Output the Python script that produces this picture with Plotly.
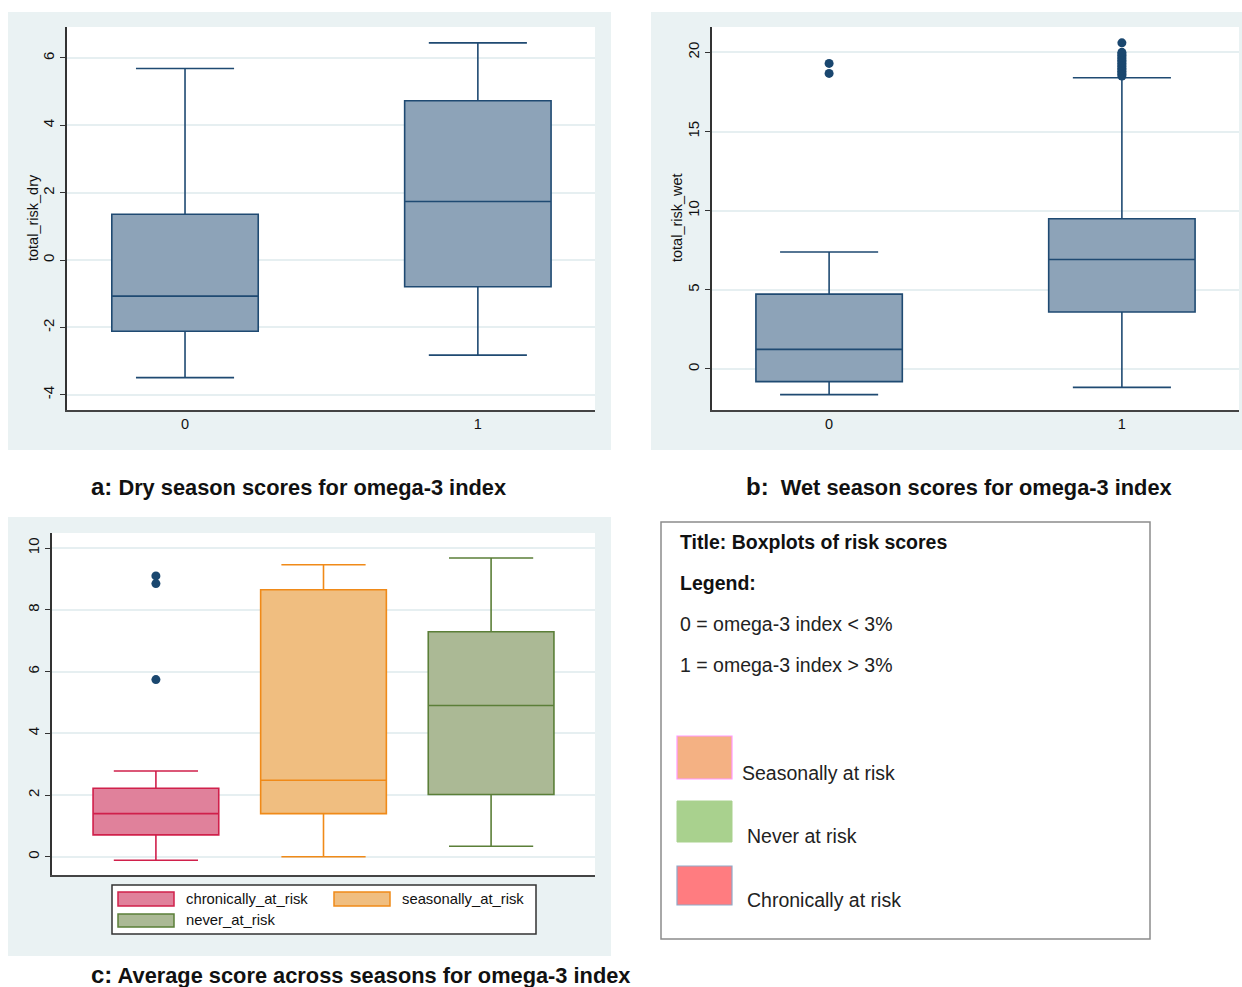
import plotly.graph_objects as go

W, H = 1242, 987


def px(x):
    return x / W


def py(y):
    return 1 - y / H


# ---------------- data ----------------
omega_groups = ["0", "1"]

dry_q1 = [-2.11, -0.79]
dry_median = [-1.07, 1.74]
dry_q3 = [1.36, 4.73]
dry_lower = [-3.49, -2.82]
dry_upper = [5.69, 6.45]

wet_q1 = [-0.80, 3.60]
wet_median = [1.24, 6.92]
wet_q3 = [4.73, 9.49]
wet_lower = [-1.62, -1.16]
wet_upper = [7.39, 18.39]
wet_outliers_0 = [18.67, 19.30]
wet_outliers_1 = [18.50, 18.60, 18.70, 18.80, 18.90, 19.00, 19.10, 19.20,
                  19.30, 19.40, 19.50, 19.60, 19.70, 19.80, 19.90, 20.00, 20.60]

risk_groups = ["chronically_at_risk", "seasonally_at_risk", "never_at_risk"]
avg_q1 = [0.71, 1.40, 2.02]
avg_median = [1.40, 2.48, 4.90]
avg_q3 = [2.22, 8.65, 7.29]
avg_lower = [-0.11, 0.00, 0.34]
avg_upper = [2.78, 9.46, 9.68]
avg_outliers_chronic = [9.10, 8.85, 5.74]

dry_ticks = [-4, -2, 0, 2, 4, 6]
wet_ticks = [0, 5, 10, 15, 20]
avg_ticks = [0, 2, 4, 6, 8, 10]

# ---------------- styles ----------------
NAVY = "#1F4A72"
NAVY_FILL = "#8DA3B8"
risk_fill = ["#E0819B", "#F0BE80", "#ABB995"]
risk_line = ["#D0204B", "#F08A18", "#5B7F38"]
GRAPH_BG = "#EAF2F3"
GRID = "#E6EFF1"
AXIS = "#333333"
FONT = "Liberation Sans, Arial, sans-serif"

fig = go.Figure()

# Panel a
fig.add_trace(go.Box(
    x=omega_groups, q1=dry_q1, median=dry_median, q3=dry_q3,
    lowerfence=dry_lower, upperfence=dry_upper,
    width=0.5, whiskerwidth=0.67, fillcolor=NAVY_FILL,
    line=dict(color=NAVY, width=1.6), boxpoints=False,
    xaxis="x", yaxis="y", showlegend=False))

# Panel b
fig.add_trace(go.Box(
    x=omega_groups, q1=wet_q1, median=wet_median, q3=wet_q3,
    lowerfence=wet_lower, upperfence=wet_upper,
    width=0.5, whiskerwidth=0.67, fillcolor=NAVY_FILL,
    line=dict(color=NAVY, width=1.6), boxpoints=False,
    xaxis="x2", yaxis="y2", showlegend=False))
fig.add_trace(go.Scatter(
    x=[omega_groups[0]] * len(wet_outliers_0), y=wet_outliers_0, mode="markers",
    marker=dict(color="#1A476F", size=9), xaxis="x2", yaxis="y2", showlegend=False))
fig.add_trace(go.Scatter(
    x=[omega_groups[1]] * len(wet_outliers_1), y=wet_outliers_1, mode="markers",
    marker=dict(color="#1A476F", size=9), xaxis="x2", yaxis="y2", showlegend=False))

# Panel c
for i, g in enumerate(risk_groups):
    fig.add_trace(go.Box(
        x=[g], q1=[avg_q1[i]], median=[avg_median[i]], q3=[avg_q3[i]],
        lowerfence=[avg_lower[i]], upperfence=[avg_upper[i]],
        width=0.75, whiskerwidth=0.67, fillcolor=risk_fill[i],
        line=dict(color=risk_line[i], width=1.6), boxpoints=False,
        xaxis="x3", yaxis="y3", showlegend=False))
fig.add_trace(go.Scatter(
    x=[risk_groups[0]] * len(avg_outliers_chronic), y=avg_outliers_chronic,
    mode="markers", marker=dict(color="#1A476F", size=9),
    xaxis="x3", yaxis="y3", showlegend=False))

# ---------------- layout ----------------
common_x = dict(type="category", showline=True, linecolor="#444444", linewidth=2,
                showgrid=False, zeroline=False, ticks="",
                tickfont=dict(family=FONT, size=14.5, color="#111111"))
common_y = dict(showline=True, linecolor=AXIS, linewidth=1.5, showgrid=True,
                gridcolor=GRID, gridwidth=1.5, zeroline=False, ticks="outside",
                ticklen=5, tickcolor=AXIS, tickwidth=1, tickangle=-90,
                ticklabelstandoff=0,
                tickfont=dict(family=FONT, size=15, color="#111111"))

fig.update_layout(
    width=W, height=H, margin=dict(l=0, r=0, t=0, b=0),
    paper_bgcolor="white", plot_bgcolor="rgba(0,0,0,0)",
    boxmode="overlay", showlegend=False,
    font=dict(family=FONT),
    xaxis=dict(common_x, domain=[px(67), px(595)], range=[-0.403, 1.40], anchor="y"),
    yaxis=dict(common_y, domain=[py(410), py(27)], range=[-4.45, 6.92],
               tickvals=dry_ticks, ticktext=[str(t) for t in dry_ticks], anchor="x"),
    xaxis2=dict(common_x, domain=[px(712), px(1239)], range=[-0.40, 1.40], anchor="y2"),
    yaxis2=dict(common_y, domain=[py(410), py(27)], range=[-2.59, 21.6],
                tickvals=wet_ticks, ticktext=[str(t) for t in wet_ticks], anchor="x2"),
    xaxis3=dict(common_x, domain=[px(52), px(595)], range=[-0.62, 2.62],
                showticklabels=False, anchor="y3"),
    yaxis3=dict(common_y, domain=[py(875), py(533)], range=[-0.59, 10.49],
                tickvals=avg_ticks, ticktext=[str(t) for t in avg_ticks], anchor="x3"),
)

shapes = []


def rect(x0, y0, x1, y1, fill, line_color=None, lw=0, layer="below"):
    shapes.append(dict(type="rect", xref="paper", yref="paper",
                       x0=px(x0), x1=px(x1), y0=py(y1), y1=py(y0),
                       fillcolor=fill, layer=layer,
                       line=dict(color=line_color or fill, width=lw)))


# graph regions + white plot regions
rect(8, 12, 611, 450, GRAPH_BG)
rect(67, 27, 595, 410, "white")
rect(651, 12, 1242, 450, GRAPH_BG)
rect(712, 27, 1239, 410, "white")
rect(8, 517, 611, 956, GRAPH_BG)
rect(52, 533, 595, 875, "white")

# panel c legend
rect(112, 885, 536, 934, "white", "#333333", 1.5, layer="above")
rect(118, 892, 174, 906, risk_fill[0], risk_line[0], 1.5, layer="above")
rect(334, 892, 390, 906, risk_fill[1], risk_line[1], 1.5, layer="above")
rect(118, 914, 174, 927, risk_fill[2], risk_line[2], 1.5, layer="above")

# right-hand legend panel
rect(661, 522, 1150, 939, "white", "#8C8C8C", 1.5, layer="above")
rect(677, 736, 732, 779, "#F4B183", "#FF99FF", 1.2, layer="above")
rect(677, 801, 732, 842, "#A9D18E", "#A9D18E", 1, layer="above")
rect(677, 866, 732, 905, "#FF7C80", "#8FA9C8", 1.2, layer="above")

fig.update_layout(shapes=shapes)

ann = []


def text(x, y, s, size, anchor="left", color="#111111", angle=0):
    ann.append(dict(x=px(x), y=py(y), xref="paper", yref="paper", text=s,
                    showarrow=False, xanchor=anchor, yanchor="middle",
                    textangle=angle,
                    font=dict(family=FONT, size=size, color=color)))


# axis titles
text(33, 218, "total_risk_dry", 14.5, anchor="center", angle=-90)
text(677, 218, "total_risk_wet", 14.5, anchor="center", angle=-90)

# panel c legend labels
text(184, 899, "chronically_at_risk", 14.8)
text(400, 899, "seasonally_at_risk", 14.8)
text(184, 920, "never_at_risk", 14.8)

# captions
text(89, 486, "<b><span style='font-size:24px'>a:</span> Dry season scores for omega-3 index</b>", 21.8)
text(744, 486, "<b><span style='font-size:24px'>b:</span>  Wet season scores for omega-3 index</b>", 21.8)
text(89, 974, "<b><span style='font-size:24px'>c:</span> Average score across seasons for omega-3 index</b>", 21.8)

# right legend panel texts
text(678, 542, "<b>Title: Boxplots of risk scores</b>", 19.5)
text(678, 583, "<b>Legend:</b>", 19.5)
text(678, 624, "0 = omega-3 index < 3%", 19.5, color="#222222")
text(678, 665, "1 = omega-3 index > 3%", 19.5, color="#222222")
text(740, 773, "Seasonally at risk", 19.5, color="#222222")
text(745, 836, "Never at risk", 19.5, color="#222222")
text(745, 900, "Chronically at risk", 19.5, color="#222222")

fig.update_layout(annotations=ann)

fig.write_html("out.html", config={"displayModeBar": False},
               post_script="document.body.style.margin='0';")
